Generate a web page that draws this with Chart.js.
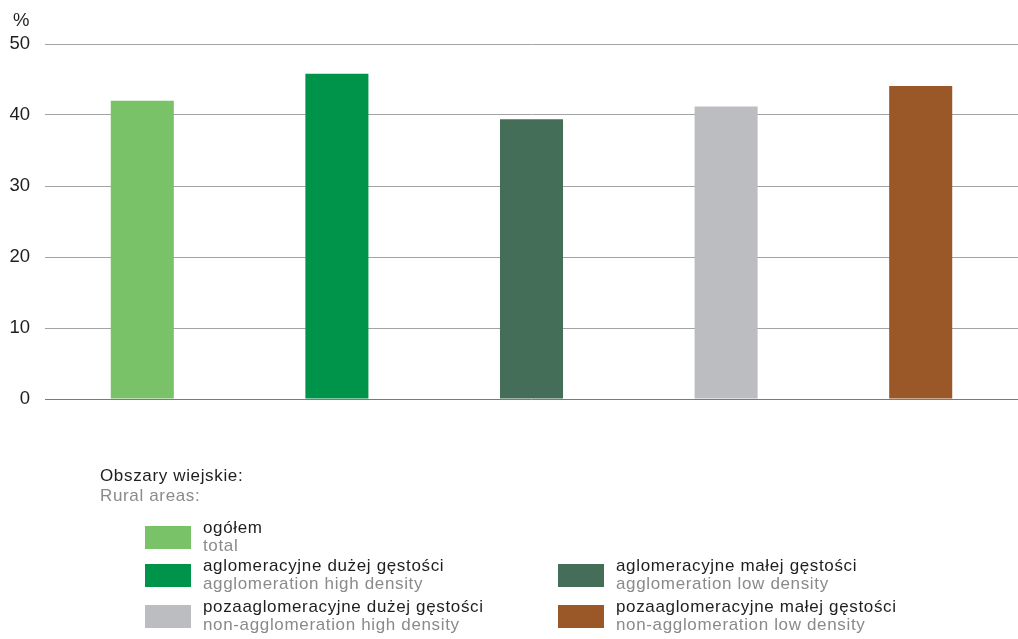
<!DOCTYPE html>
<html>
<head>
<meta charset="utf-8">
<script src="https://cdn.jsdelivr.net/npm/chart.js@4.4.0/dist/chart.umd.min.js"></script>
<style>
  html, body { margin: 0; padding: 0; background: #fff; }
  #wrap { position: relative; width: 1018px; height: 639px; overflow: hidden; font-family: Arial, "Liberation Sans", sans-serif; }
  #chart { position: absolute; left: 0; top: 0; }
  .txt { position: absolute; font-size: 17px; line-height: 18px; letter-spacing: 0.65px; white-space: nowrap; }
  .pl { color: #1e1e1e; }
  .en { color: #8a8a8a; }
  .sw { position: absolute; width: 46px; height: 23px; }
</style>
</head>
<body>
<div id="wrap">
  <canvas id="chart" width="1018" height="639"></canvas>
  <div class="txt pl" style="left:13px; top:11px; font-size:18.5px; letter-spacing:0;">%</div>
  <div class="txt pl" style="left:100px; top:467px;">Obszary wiejskie:</div>
  <div class="txt en" style="left:100px; top:487px;">Rural areas:</div>
  <div id="legend"></div>
</div>
<script>
// dane
const categories = ['ogółem', 'aglomeracyjne dużej gęstości', 'aglomeracyjne małej gęstości', 'pozaaglomeracyjne dużej gęstości', 'pozaaglomeracyjne małej gęstości'];
const categoriesEn = ['total', 'agglomeration high density', 'agglomeration low density', 'non-agglomeration high density', 'non-agglomeration low density'];
const values = [42.0, 45.8, 39.4, 41.2, 44.1];
const yTicks = [0, 10, 20, 30, 40, 50];

const barColors = ['#79c267', '#00934a', '#446e58', '#bcbdc0', '#9a5829'];

Chart.defaults.font.family = 'Arial, "Liberation Sans", sans-serif';
Chart.defaults.color = '#1e1e1e';

var ctx = document.getElementById('chart').getContext('2d');

var barChart = new Chart(ctx, {
    type: 'bar',
    data: {
        labels: categories,
        datasets: [{
            data: values,
            backgroundColor: barColors,
            borderWidth: 0,
            barPercentage: 0.324,
            categoryPercentage: 1
        }]
    },
    options: {
        responsive: false,
        animation: false,
        layout: {
            padding: { top: 44, bottom: 240, left: 0, right: 0 }
        },
        plugins: {
            legend: { display: false },
            tooltip: { enabled: false }
        },
        scales: {
            x: {
                display: false
            },
            y: {
                min: 0,
                max: 50,
                afterBuildTicks: function(scale) {
                    scale.ticks = yTicks.map(v => ({ value: v }));
                },
                afterFit: function(scale) {
                    scale.width = 45;
                },
                border: { display: false },
                grid: {
                    drawTicks: false,
                    lineWidth: 1,
                    color: function(c) {
                        return c.tick && c.tick.value === 0 ? '#7a7a7a' : '#a3a3a3';
                    }
                },
                ticks: {
                    padding: 15,
                    font: { size: 18.5 },
                    color: '#1e1e1e'
                }
            }
        }
    }
});

// legenda
const legendSlots = [
    { x: 145, y: 526 },
    { x: 145, y: 564 },
    { x: 558, y: 564 },
    { x: 145, y: 605 },
    { x: 558, y: 605 }
];
let legendHtml = '';
for (let i = 0; i < categories.length; i++) {
    const s = legendSlots[i];
    legendHtml += `<div class="sw" style="left:${s.x}px; top:${s.y}px; background:${barColors[i]}"></div>`;
    legendHtml += `<div class="txt pl" style="left:${s.x + 58}px; top:${s.y - 7}px;">${categories[i]}</div>`;
    legendHtml += `<div class="txt en" style="left:${s.x + 58}px; top:${s.y + 11}px;">${categoriesEn[i]}</div>`;
}
document.getElementById('legend').innerHTML = legendHtml;
</script>
</body>
</html>
